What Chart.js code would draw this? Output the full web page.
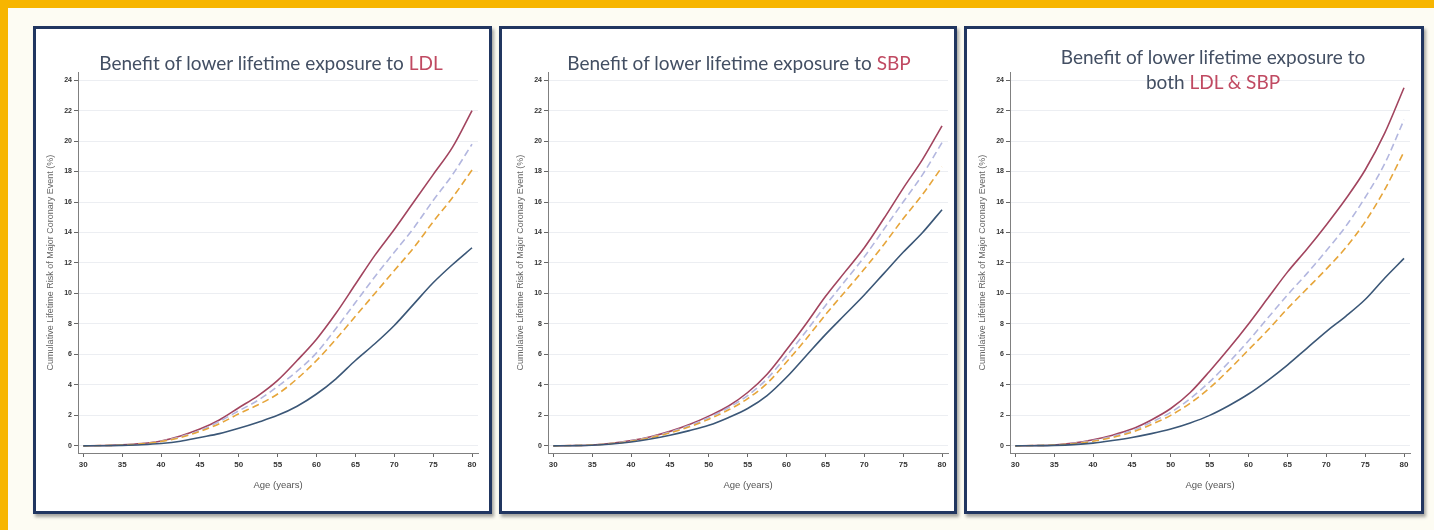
<!DOCTYPE html>
<html>
<head>
<meta charset="utf-8">
<script src="https://cdn.jsdelivr.net/npm/chart.js@4.4.1/dist/chart.umd.min.js"></script>
<style>
  html, body { margin: 0; padding: 0; }
  body {
    width: 1434px; height: 530px; position: relative; overflow: hidden;
    background: #fdfcf3;
    font-family: Lato, "Open Sans", sans-serif;
  }
  .topbar { position: absolute; left: 0; top: 0; width: 1434px; height: 8px; background: #f7b500; }
  .sidebar { position: absolute; left: 0; top: 0; width: 8px; height: 530px; background: #f7b500; }
  .panel {
    position: absolute; top: 26px; height: 488px; box-sizing: border-box;
    border: 3px solid #213660; background: #ffffff;
    box-shadow: 2px 3px 3px rgba(60, 60, 60, 0.45);
  }
  .title {
    position: absolute; top: 50px; width: 454px; text-align: center;
    font-size: 19px; color: #434f63; line-height: 25px; white-space: nowrap;
  }
  .title span { color: #c04a62; }
  canvas { position: absolute; }
</style>
</head>
<body>
<div class="topbar"></div>
<div class="sidebar"></div>

<div class="panel" style="left:33px; width:459px;"></div>
<div class="panel" style="left:499px; width:458px;"></div>
<div class="panel" style="left:964px; width:460px;"></div>

<canvas id="chartLdl" width="446" height="425" style="left:36px; top:66px;"></canvas>
<canvas id="chartSbp" width="446" height="425" style="left:506px; top:66px;"></canvas>
<canvas id="chartBoth" width="446" height="425" style="left:968px; top:66px;"></canvas>

<div class="title" style="left:44px;">Benefit of lower lifetime exposure to <span>LDL</span></div>
<div class="title" style="left:512px;">Benefit of lower lifetime exposure to <span>SBP</span></div>
<div class="title" style="left:986px; top:44px;">Benefit of lower lifetime exposure to<br>both <span>LDL &amp; SBP</span></div>

<script>
// 年龄 (x)
const ages = [30, 32.5, 35, 37.5, 40, 42.5, 45, 47.5, 50, 52.5, 55, 57.5, 60, 62.5, 65, 67.5, 70, 72.5, 75, 77.5, 80];
const xTicks = [30, 35, 40, 45, 50, 55, 60, 65, 70, 75, 80];
const yTicks = [0, 2, 4, 6, 8, 10, 12, 14, 16, 18, 20, 22, 24];

// Panel 1 - LDL
const ldlRed      = [0, 0.02, 0.06, 0.15, 0.32, 0.65, 1.1, 1.7, 2.5, 3.3, 4.3, 5.6, 7.0, 8.7, 10.6, 12.5, 14.2, 16.0, 17.8, 19.6, 22.0];
const ldlLavender = [0, 0.02, 0.05, 0.14, 0.30, 0.60, 1.0, 1.6, 2.3, 3.0, 3.9, 4.9, 6.1, 7.7, 9.4, 11.1, 12.7, 14.3, 16.1, 17.8, 19.8];
const ldlOrange   = [0, 0.02, 0.05, 0.13, 0.28, 0.55, 0.95, 1.45, 2.1, 2.7, 3.4, 4.4, 5.6, 7.0, 8.5, 10.0, 11.5, 13.0, 14.7, 16.3, 18.1];
const ldlNavy     = [0, 0.01, 0.03, 0.07, 0.15, 0.30, 0.55, 0.8, 1.15, 1.55, 2.0, 2.6, 3.4, 4.4, 5.6, 6.7, 7.9, 9.3, 10.7, 11.9, 13.0];

// Panel 2 - SBP
const sbpRed      = [0, 0.02, 0.06, 0.17, 0.35, 0.60, 0.95, 1.4, 1.95, 2.6, 3.5, 4.7, 6.3, 8.0, 9.8, 11.4, 13.0, 14.9, 16.9, 18.8, 21.0];
const sbpLavender = [0, 0.02, 0.05, 0.16, 0.33, 0.57, 0.9, 1.33, 1.85, 2.5, 3.3, 4.4, 5.9, 7.5, 9.2, 10.8, 12.4, 14.2, 16.0, 17.8, 19.9];
const sbpOrange   = [0, 0.02, 0.05, 0.15, 0.30, 0.53, 0.85, 1.25, 1.75, 2.35, 3.1, 4.1, 5.5, 7.0, 8.6, 10.1, 11.6, 13.2, 14.9, 16.5, 18.3];
const sbpNavy     = [0, 0.01, 0.04, 0.12, 0.25, 0.45, 0.7, 1.0, 1.35, 1.85, 2.45, 3.3, 4.5, 5.9, 7.3, 8.6, 9.9, 11.3, 12.7, 14.0, 15.5];

// Panel 3 - LDL & SBP
const bothRed      = [0, 0.02, 0.06, 0.18, 0.40, 0.70, 1.1, 1.7, 2.45, 3.5, 4.9, 6.4, 8.0, 9.7, 11.4, 12.9, 14.5, 16.2, 18.1, 20.5, 23.5];
const bothLavender = [0, 0.02, 0.05, 0.16, 0.35, 0.62, 1.0, 1.55, 2.2, 3.1, 4.2, 5.5, 6.9, 8.4, 9.9, 11.3, 12.8, 14.4, 16.3, 18.5, 21.4];
const bothOrange   = [0, 0.02, 0.05, 0.14, 0.30, 0.55, 0.9, 1.4, 2.0, 2.8, 3.8, 5.0, 6.3, 7.6, 9.0, 10.3, 11.6, 13.0, 14.7, 16.8, 19.3];
const bothNavy     = [0, 0.01, 0.03, 0.08, 0.18, 0.35, 0.55, 0.8, 1.1, 1.5, 2.0, 2.65, 3.4, 4.3, 5.3, 6.4, 7.5, 8.5, 9.6, 11.0, 12.3];

const COLORS = {
    red: '#a2455f',
    lavender: '#b3b7df',
    orange: '#e6a53a',
    navy: '#3b5777'
};

function toPoints(values) {
    return ages.map((a, i) => ({ x: a, y: values[i] }));
}

function makeDataset(values, color, dashed) {
    return {
        data: toPoints(values),
        borderColor: color,
        borderWidth: 1.6,
        borderDash: dashed ? [7, 4] : [],
        pointRadius: 0,
        fill: false,
        cubicInterpolationMode: 'monotone'
    };
}

/**
 * 创建一个面板图表
 */
function createPanel(canvasId, red, lavender, orange, navy) {
    const ctx = document.getElementById(canvasId).getContext('2d');
    return new Chart(ctx, {
        type: 'line',
        data: {
            datasets: [
                makeDataset(navy, COLORS.navy, false),
                makeDataset(orange, COLORS.orange, true),
                makeDataset(lavender, COLORS.lavender, true),
                makeDataset(red, COLORS.red, false)
            ]
        },
        options: {
            responsive: false,
            animation: false,
            layout: { padding: { left: 0, right: 4, top: 2, bottom: 0 } },
            plugins: { legend: { display: false }, tooltip: { enabled: false } },
            scales: {
                x: {
                    type: 'linear',
                    min: 29.32,
                    max: 80.77,
                    afterBuildTicks: s => { s.ticks = xTicks.map(v => ({ value: v })); },
                    afterFit: s => { s.height = 38; },
                    border: { color: '#808080', width: 1 },
                    grid: { drawOnChartArea: false, tickLength: 4, tickColor: '#666' },
                    ticks: {
                        color: '#333',
                        padding: 3,
                        maxRotation: 0,
                        autoSkip: false,
                        font: { family: 'Liberation Sans, Arial', size: 8, weight: 'bold' }
                    },
                    title: {
                        display: true,
                        text: 'Age (years)',
                        color: '#555',
                        padding: { top: 3, bottom: 0 },
                        font: { family: 'Liberation Sans, Arial', size: 9.5 }
                    }
                },
                y: {
                    type: 'linear',
                    min: -0.47,
                    max: 24.52,
                    afterBuildTicks: s => { s.ticks = yTicks.map(v => ({ value: v })); },
                    afterFit: s => { s.width = 42; },
                    border: { color: '#808080', width: 1 },
                    grid: { color: '#eceef2', lineWidth: 1, tickLength: 4, tickColor: '#666' },
                    ticks: {
                        color: '#333',
                        padding: 2,
                        autoSkip: false,
                        font: { family: 'Liberation Sans, Arial', size: 7, weight: 'bold' }
                    },
                    title: {
                        display: true,
                        text: 'Cumulative Lifetime Risk of Major Coronary Event (%)',
                        color: '#666',
                        padding: { top: 9, bottom: 0 },
                        font: { family: 'Liberation Sans, Arial', size: 9 }
                    }
                }
            }
        }
    });
}

createPanel('chartLdl', ldlRed, ldlLavender, ldlOrange, ldlNavy);
createPanel('chartSbp', sbpRed, sbpLavender, sbpOrange, sbpNavy);
createPanel('chartBoth', bothRed, bothLavender, bothOrange, bothNavy);
</script>
</body>
</html>
